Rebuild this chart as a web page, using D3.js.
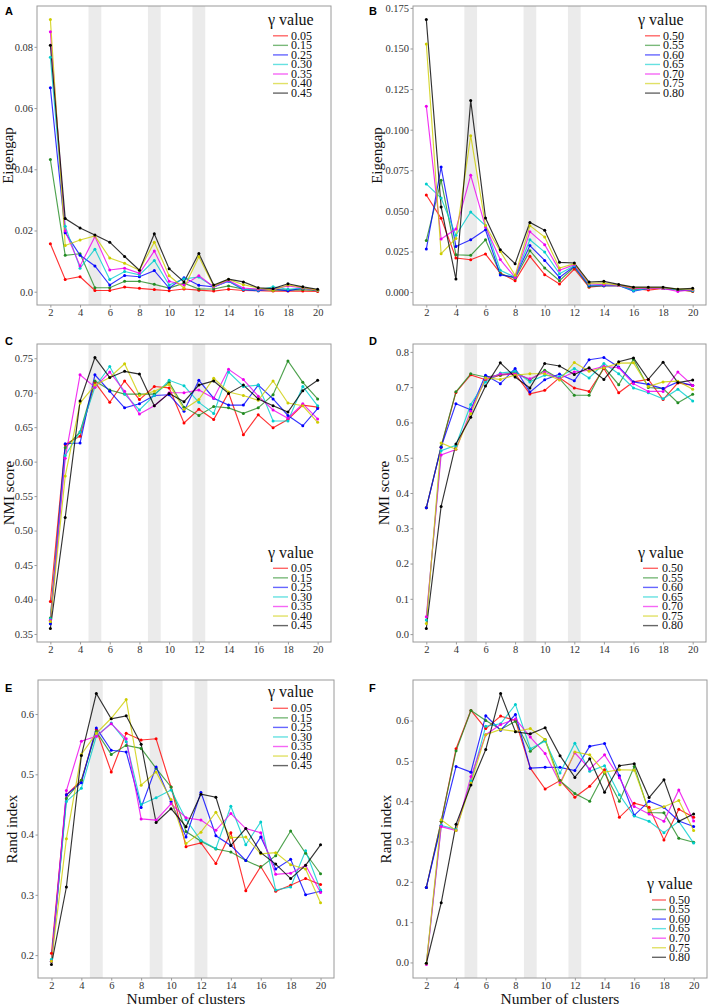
<!DOCTYPE html>
<html><head><meta charset="utf-8">
<script src="https://cdn.jsdelivr.net/npm/d3@7"></script>
<style>body{margin:0;background:#fff}svg{display:block}</style>
</head><body>
<script>
// ---------- data ----------
const clusters = [2,3,4,5,6,7,8,9,10,11,12,13,14,15,16,17,18,19,20];
const gammaLeft  = ["0.05","0.15","0.25","0.30","0.35","0.40","0.45"];
const gammaRight = ["0.50","0.55","0.60","0.65","0.70","0.75","0.80"];
const seriesColors = ["#FF0000","#228B22","#0000FF","#00CDCD","#EE00EE","#CDCD00","#000000"];
const bandCenters = [5, 9, 12];
const xTicks = [2,4,6,8,10,12,14,16,18,20];

// Panel A: Eigengap, gamma 0.05..0.45
const eigenA = [
 [0.0157,0.0040,0.0049,0.0004,0.0004,0.0015,0.0011,0.0007,0.0003,0.0009,0.0005,0.0002,0.0008,0.0004,0.0003,0.0002,0.0002,0.0002,0.0001],
 [0.0432,0.0119,0.0124,0.0013,0.0013,0.0034,0.0034,0.0024,0.0012,0.0028,0.0009,0.0009,0.0019,0.0008,0.0008,0.0005,0.0006,0.0007,0.0003],
 [0.0666,0.0193,0.0119,0.0084,0.0022,0.0053,0.0049,0.0069,0.0012,0.0046,0.0021,0.0016,0.0034,0.0007,0.0003,0.0009,0.0003,0.0012,0.0004],
 [0.0766,0.0214,0.0077,0.0139,0.0040,0.0066,0.0055,0.0102,0.0022,0.0042,0.0048,0.0016,0.0035,0.0008,0.0005,0.0016,0.0008,0.0012,0.0005],
 [0.0849,0.0198,0.0084,0.0180,0.0071,0.0077,0.0060,0.0133,0.0034,0.0022,0.0052,0.0016,0.0037,0.0012,0.0008,0.0008,0.0019,0.0012,0.0005],
 [0.0889,0.0151,0.0169,0.0182,0.0110,0.0093,0.0070,0.0162,0.0052,0.0012,0.0114,0.0019,0.0040,0.0023,0.0012,0.0005,0.0022,0.0014,0.0005],
 [0.0805,0.0239,0.0208,0.0185,0.0162,0.0115,0.0070,0.0189,0.0075,0.0032,0.0125,0.0022,0.0041,0.0032,0.0013,0.0010,0.0026,0.0016,0.0008]
];
// Panel B: Eigengap, gamma 0.50..0.80
const eigenB = [
 [0.0598,0.0454,0.0210,0.0199,0.0234,0.0117,0.0070,0.0220,0.0107,0.0049,0.0142,0.0030,0.0039,0.0040,0.0023,0.0012,0.0022,0.0014,0.0004],
 [0.0318,0.0688,0.0230,0.0226,0.0322,0.0113,0.0084,0.0255,0.0148,0.0070,0.0154,0.0035,0.0039,0.0041,0.0014,0.0022,0.0022,0.0014,0.0006],
 [0.0265,0.0770,0.0281,0.0322,0.0384,0.0105,0.0092,0.0286,0.0195,0.0090,0.0158,0.0040,0.0039,0.0041,0.0006,0.0022,0.0022,0.0014,0.0010],
 [0.0666,0.0579,0.0350,0.0493,0.0410,0.0134,0.0092,0.0322,0.0246,0.0113,0.0162,0.0045,0.0043,0.0041,0.0010,0.0022,0.0022,0.0014,0.0010],
 [0.1144,0.0327,0.0388,0.0719,0.0400,0.0200,0.0090,0.0372,0.0292,0.0134,0.0168,0.0051,0.0045,0.0041,0.0023,0.0022,0.0022,0.0004,0.0014],
 [0.1528,0.0236,0.0330,0.0963,0.0410,0.0250,0.0103,0.0409,0.0339,0.0148,0.0175,0.0055,0.0055,0.0043,0.0027,0.0027,0.0027,0.0018,0.0018],
 [0.1678,0.0524,0.0080,0.1179,0.0456,0.0261,0.0175,0.0429,0.0380,0.0183,0.0179,0.0062,0.0066,0.0047,0.0030,0.0030,0.0030,0.0018,0.0023]
];
// Panel C: NMI score, gamma 0.05..0.45
const nmiC = [
 [0.397,0.625,0.637,0.715,0.686,0.717,0.690,0.709,0.707,0.656,0.676,0.661,0.700,0.639,0.668,0.649,0.661,0.682,0.679],
 [0.373,0.620,0.643,0.717,0.704,0.698,0.698,0.698,0.715,0.679,0.667,0.680,0.678,0.670,0.678,0.697,0.746,0.715,0.691],
 [0.365,0.626,0.627,0.726,0.702,0.678,0.684,0.696,0.697,0.673,0.718,0.692,0.682,0.682,0.711,0.691,0.667,0.652,0.677],
 [0.372,0.609,0.643,0.708,0.738,0.698,0.675,0.696,0.718,0.710,0.686,0.670,0.730,0.709,0.711,0.659,0.659,0.709,0.681],
 [0.370,0.605,0.726,0.708,0.730,0.702,0.669,0.681,0.700,0.700,0.704,0.692,0.734,0.719,0.695,0.675,0.663,0.684,0.662],
 [0.368,0.579,0.685,0.711,0.722,0.742,0.696,0.702,0.712,0.676,0.690,0.721,0.701,0.696,0.689,0.717,0.685,0.681,0.657],
 [0.358,0.519,0.688,0.751,0.722,0.731,0.727,0.681,0.699,0.687,0.711,0.717,0.699,0.711,0.691,0.681,0.672,0.703,0.718]
];
// Panel D: NMI score, gamma 0.50..0.80
const nmiD = [
 [0.358,0.530,0.685,0.735,0.721,0.734,0.738,0.681,0.691,0.727,0.698,0.688,0.753,0.684,0.715,0.722,0.665,0.712,0.705],
 [0.358,0.532,0.687,0.738,0.729,0.734,0.743,0.720,0.748,0.724,0.677,0.677,0.757,0.707,0.779,0.699,0.696,0.656,0.680],
 [0.358,0.530,0.653,0.636,0.734,0.710,0.753,0.686,0.721,0.737,0.718,0.778,0.784,0.757,0.715,0.708,0.696,0.715,0.705],
 [0.040,0.520,0.535,0.651,0.715,0.740,0.745,0.715,0.734,0.729,0.753,0.726,0.767,0.738,0.698,0.684,0.667,0.694,0.661],
 [0.049,0.508,0.523,0.632,0.724,0.737,0.737,0.724,0.743,0.724,0.743,0.748,0.759,0.755,0.710,0.688,0.688,0.743,0.705],
 [0.030,0.542,0.524,0.625,0.726,0.722,0.734,0.738,0.738,0.720,0.770,0.745,0.755,0.768,0.769,0.702,0.715,0.717,0.694],
 [0.016,0.362,0.539,0.615,0.703,0.769,0.729,0.698,0.767,0.760,0.736,0.755,0.722,0.772,0.783,0.722,0.771,0.713,0.720]
];
// Panel E: Rand index, gamma 0.05..0.45
const randE = [
 [0.203,0.466,0.490,0.574,0.504,0.568,0.557,0.559,0.479,0.380,0.386,0.352,0.403,0.307,0.347,0.306,0.316,0.327,0.317],
 [0.190,0.460,0.490,0.571,0.533,0.548,0.543,0.510,0.479,0.405,0.389,0.376,0.371,0.357,0.346,0.365,0.406,0.369,0.335],
 [0.190,0.466,0.486,0.577,0.540,0.537,0.445,0.512,0.455,0.396,0.470,0.398,0.382,0.357,0.396,0.343,0.359,0.300,0.306],
 [0.193,0.455,0.477,0.563,0.585,0.554,0.450,0.461,0.474,0.425,0.390,0.377,0.447,0.383,0.421,0.308,0.313,0.373,0.308],
 [0.190,0.473,0.555,0.563,0.584,0.559,0.426,0.424,0.451,0.428,0.424,0.407,0.435,0.410,0.403,0.334,0.336,0.349,0.304],
 [0.190,0.393,0.533,0.568,0.593,0.624,0.482,0.504,0.458,0.385,0.404,0.437,0.395,0.396,0.368,0.370,0.350,0.343,0.287],
 [0.1845,0.313,0.531,0.634,0.592,0.597,0.550,0.420,0.443,0.413,0.467,0.462,0.382,0.410,0.370,0.351,0.327,0.349,0.383]
];
// Panel F: Rand index, gamma 0.50..0.80
const randF = [
 [0.186,0.350,0.530,0.625,0.580,0.611,0.600,0.482,0.430,0.451,0.410,0.437,0.478,0.360,0.395,0.385,0.304,0.380,0.360],
 [0.186,0.350,0.525,0.625,0.600,0.578,0.598,0.524,0.553,0.451,0.419,0.400,0.470,0.400,0.486,0.372,0.371,0.308,0.298],
 [0.186,0.340,0.486,0.472,0.612,0.576,0.615,0.482,0.484,0.484,0.476,0.536,0.543,0.463,0.365,0.400,0.385,0.351,0.337],
 [-0.002,0.340,0.330,0.450,0.586,0.592,0.640,0.530,0.549,0.470,0.544,0.474,0.488,0.416,0.363,0.350,0.322,0.350,0.296],
 [-0.005,0.337,0.327,0.461,0.565,0.590,0.604,0.559,0.518,0.445,0.520,0.480,0.515,0.458,0.387,0.368,0.350,0.428,0.351],
 [-0.002,0.354,0.327,0.445,0.565,0.578,0.573,0.580,0.553,0.441,0.522,0.515,0.472,0.478,0.477,0.376,0.386,0.402,0.327],
 [-0.002,0.148,0.343,0.440,0.528,0.667,0.572,0.567,0.582,0.513,0.459,0.505,0.422,0.488,0.493,0.409,0.453,0.350,0.368]
];

const yTicksA = [0,0.02,0.04,0.06,0.08];
const yLabelsA = ["0.0","0.02","0.04","0.06","0.08"];
const yTicksB = [0,0.025,0.05,0.075,0.1,0.125,0.15,0.175];
const yLabelsB = ["0.000","0.025","0.050","0.075","0.100","0.125","0.150","0.175"];
const yTicksC = [0.35,0.4,0.45,0.5,0.55,0.6,0.65,0.7,0.75];
const yLabelsC = ["0.35","0.40","0.45","0.50","0.55","0.60","0.65","0.70","0.75"];
const yTicksD = [0,0.1,0.2,0.3,0.4,0.5,0.6,0.7,0.8];
const yLabelsD = ["0.0","0.1","0.2","0.3","0.4","0.5","0.6","0.7","0.8"];
const yTicksE = [0.2,0.3,0.4,0.5,0.6];
const yLabelsE = ["0.2","0.3","0.4","0.5","0.6"];
const yTicksF = [0,0.1,0.2,0.3,0.4,0.5,0.6];
const yLabelsF = ["0.0","0.1","0.2","0.3","0.4","0.5","0.6"];

// ---------- layout ----------
const W = 709, H = 1006;
const SERIF = "'Liberation Serif','Times New Roman',serif";
const SANS = "'Liberation Sans',Arial,sans-serif";

const panels = [
 {tag:"A", data:eigenA, gam:gammaLeft,  ticks:yTicksA, labels:yLabelsA, title:"Eigengap",
  f:{x0:37,x1:331,y0:6,y1:305}, tagPos:[5,15], titleX:12.5, leg:{x:268,y:20,key:[273,288],lab:291,row0:35.8}, xTitle:false},
 {tag:"B", data:eigenB, gam:gammaRight, ticks:yTicksB, labels:yLabelsB, title:"Eigengap",
  f:{x0:413,x1:706,y0:6,y1:305}, tagPos:[369,15], titleX:382, leg:{x:638,y:20,key:[645,660],lab:663,row0:35.8}, xTitle:false},
 {tag:"C", data:nmiC, gam:gammaLeft, ticks:yTicksC, labels:yLabelsC, title:"NMI score",
  f:{x0:37,x1:331,y0:344,y1:642}, tagPos:[5,345], titleX:14, leg:{x:268,y:553,key:[273,288],lab:291,row0:568.3}, xTitle:false},
 {tag:"D", data:nmiD, gam:gammaRight, ticks:yTicksD, labels:yLabelsD, title:"NMI score",
  f:{x0:413,x1:706,y0:344,y1:642}, tagPos:[369,345], titleX:389, leg:{x:638,y:553,key:[643,658],lab:662,row0:568.3}, xTitle:false},
 {tag:"E", data:randE, gam:gammaLeft, ticks:yTicksE, labels:yLabelsE, title:"Rand index",
  f:{x0:38,x1:334,y0:680,y1:978}, tagPos:[5,692], titleX:17, leg:{x:268,y:692,key:[273,288],lab:291,row0:708.3}, xTitle:true},
 {tag:"F", data:randF, gam:gammaRight, ticks:yTicksF, labels:yLabelsF, title:"Rand index",
  f:{x0:413,x1:707,y0:680,y1:978}, tagPos:[369,692], titleX:391, leg:{x:647,y:884,key:[652,666],lab:669,row0:900}, xTitle:true}
];

const svg = d3.select("body").append("svg").attr("width",W).attr("height",H)
  .style("background","#fff");

function drawPanel(p){
  const f = p.f;
  const g = svg.append("g");
  const xs = d3.scaleLinear().domain([2 - 0.9, 20 + 0.9]).range([f.x0, f.x1]);
  const allVals = p.data.flat();
  const lo = d3.min(allVals), hi = d3.max(allVals), pad = (hi - lo) * 0.05;
  const ys = d3.scaleLinear().domain([lo - pad, hi + pad]).range([f.y1, f.y0]);

  // bands
  g.selectAll("rect.band").data(bandCenters).join("rect").attr("class","band")
    .attr("x", d => xs(d - 0.43)).attr("width", d => xs(d + 0.43) - xs(d - 0.43))
    .attr("y", f.y0).attr("height", f.y1 - f.y0).attr("fill", "#EBEBEB");

  // lines
  const line = d3.line().x((d,i) => xs(clusters[i])).y(d => ys(d));
  p.data.forEach((s, k) => {
    g.append("path").attr("d", line(s)).attr("fill","none")
      .attr("stroke", seriesColors[k]).attr("stroke-width", 1.15).attr("stroke-opacity", 0.8);
  });
  p.data.forEach((s, k) => {
    g.selectAll(null).data(s).join("circle")
      .attr("cx", (d,i) => xs(clusters[i])).attr("cy", d => ys(d)).attr("r", 1.5)
      .attr("fill", seriesColors[k]);
  });

  // frame
  g.append("rect").attr("x", f.x0).attr("y", f.y0).attr("width", f.x1 - f.x0).attr("height", f.y1 - f.y0)
    .attr("fill","none").attr("stroke","#9a9a9a").attr("stroke-width",1);

  // axes
  const xAxis = d3.axisBottom(xs).tickValues(xTicks).tickSize(2.5).tickPadding(1).tickFormat(d3.format("d"));
  const xg = g.append("g").attr("transform", `translate(0,${f.y1})`).call(xAxis);
  const yAxis = d3.axisLeft(ys).tickValues(p.ticks).tickSize(2.5).tickPadding(1.5)
    .tickFormat((d,i) => p.labels[i]);
  const yg = g.append("g").attr("transform", `translate(${f.x0},0)`).call(yAxis);
  [xg, yg].forEach(a => {
    a.select(".domain").remove();
    a.selectAll("line").attr("stroke","#9a9a9a");
    a.selectAll("text").attr("fill","#333").style("font-family", SERIF).style("font-size","10.5px");
  });

  // y title
  g.append("text").attr("transform", `translate(${p.titleX},${(f.y0 + f.y1)/2}) rotate(-90)`)
    .attr("text-anchor","middle").style("font-family", SERIF).style("font-size","15px").attr("fill","#111")
    .text(p.title);
  if (p.xTitle) {
    g.append("text").attr("x", (f.x0 + f.x1)/2).attr("y", 1004).attr("text-anchor","middle")
      .style("font-family", SERIF).style("font-size","15.5px").attr("fill","#111").text("Number of clusters");
  }

  // panel tag
  g.append("text").attr("x", p.tagPos[0]).attr("y", p.tagPos[1]).style("font-family", SANS)
    .style("font-weight","bold").style("font-size","11px").attr("fill","#000").text(p.tag);

  // legend
  const L = p.leg;
  g.append("text").attr("x", L.x).attr("y", L.y + 5).style("font-family", SERIF).style("font-size","16px")
    .attr("fill","#111").text("γ value");
  p.gam.forEach((lab, k) => {
    const yy = L.row0 + k * 9.55;
    g.append("line").attr("x1", L.key[0]).attr("x2", L.key[1]).attr("y1", yy).attr("y2", yy)
      .attr("stroke", seriesColors[k]).attr("stroke-width", 1.4).attr("stroke-opacity", 0.6);
    g.append("text").attr("x", L.lab).attr("y", yy + 3.8).style("font-family", SERIF).style("font-size","12px")
      .attr("fill","#111").text(lab);
  });
}
panels.forEach(drawPanel);
</script>
</body></html>
